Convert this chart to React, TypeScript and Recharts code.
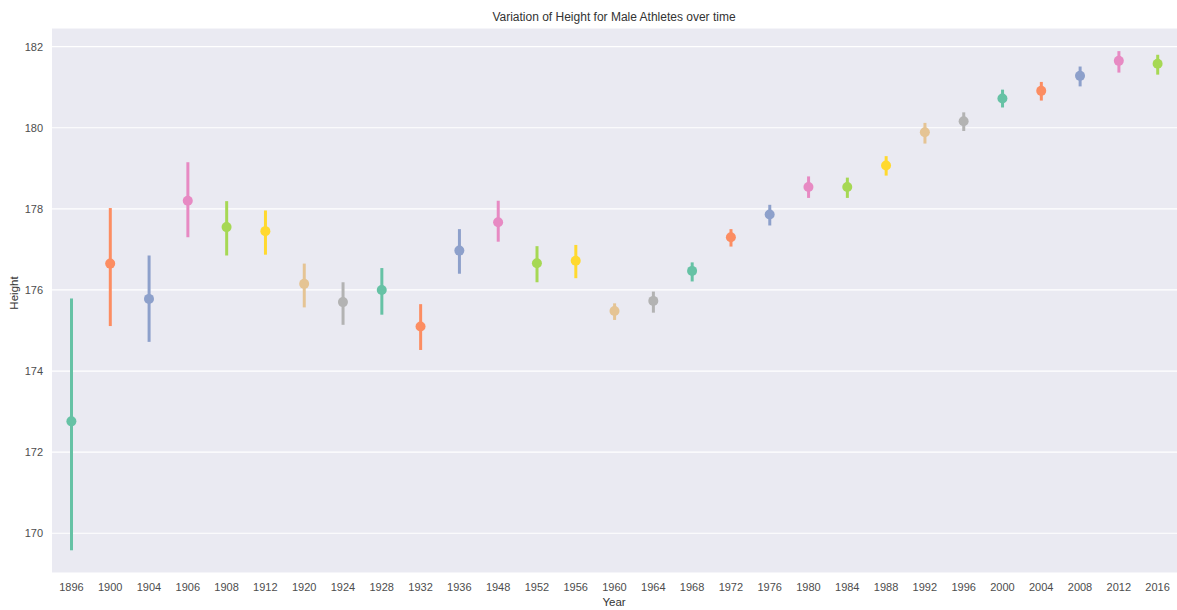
import { Bar, CartesianGrid, Cell, ComposedChart, Line, XAxis, YAxis } from "recharts";

const years = [
  "1896", "1900", "1904", "1906", "1908", "1912", "1920", "1924", "1928", "1932",
  "1936", "1948", "1952", "1956", "1960", "1964", "1968", "1972", "1976", "1980",
  "1984", "1988", "1992", "1996", "2000", "2004", "2008", "2012", "2016",
];

// mean height per games
const meanHeight = [
  172.76, 176.65, 175.78, 178.2, 177.55, 177.45, 176.15, 175.7, 176.0, 175.1,
  176.97, 177.67, 176.66, 176.72, 175.48, 175.73, 176.47, 177.3, 177.86, 178.54,
  178.54, 179.07, 179.89, 180.16, 180.72, 180.91, 181.28, 181.65, 181.58,
];

// confidence interval bounds
const ciLow = [
  169.58, 175.11, 174.72, 177.3, 176.85, 176.87, 175.57, 175.14, 175.39, 174.52,
  176.4, 177.19, 176.19, 176.29, 175.26, 175.44, 176.21, 177.07, 177.59, 178.27,
  178.27, 178.82, 179.61, 179.92, 180.5, 180.67, 181.02, 181.36, 181.31,
];
const ciHigh = [
  175.79, 178.02, 176.85, 179.15, 178.19, 177.96, 176.65, 176.19, 176.54, 175.65,
  177.5, 178.2, 177.08, 177.11, 175.67, 175.96, 176.68, 177.5, 178.1, 178.8,
  178.77, 179.3, 180.12, 180.38, 180.94, 181.13, 181.51, 181.89, 181.8,
];

const yTicks = [170, 172, 174, 176, 178, 180, 182];

// seaborn Set2
const SET2 = ["#66c2a5", "#fc8d62", "#8da0cb", "#e78ac3", "#a6d854", "#ffd92f", "#e5c494", "#b3b3b3"];

const data = years.map((y, i) => ({
  year: y,
  height: meanHeight[i],
  ci: [ciLow[i], ciHigh[i]],
}));

const FONT = '"Liberation Sans", Arial, Helvetica, sans-serif';

export default function App() {
  return (
    <div style={{ position: "absolute", left: 0, top: 0, width: 1177, height: 610, background: "#fff", fontFamily: FONT }}>
      <div
        style={{
          position: "absolute",
          left: 614,
          top: 17,
          transform: "translate(-50%, -50%)",
          whiteSpace: "nowrap",
          fontSize: 12,
          color: "#333",
        }}
      >
        Variation of Height for Male Athletes over time
      </div>
      <div
        style={{
          position: "absolute",
          left: 14,
          top: 293,
          transform: "translate(-50%, -50%) rotate(-90deg)",
          fontSize: 11.5,
          color: "#333",
        }}
      >
        Height
      </div>
      <div
        style={{ position: "absolute", left: 614, top: 602, transform: "translate(-50%, -50%)", fontSize: 11.5, color: "#333" }}
      >
        Year
      </div>
      <ComposedChart width={1177} height={610} data={data} margin={{ top: 28, right: 0, bottom: 7, left: 0 }}>
        <CartesianGrid fill="#eaeaf2" stroke="#ffffff" strokeWidth={1.2} vertical={false} />
        <XAxis
          dataKey="year"
          type="category"
          height={30}
          axisLine={false}
          tickLine={false}
          tickSize={0}
          tickMargin={10}
          interval={0}
          tick={{ fontSize: 11, fill: "#4d4d4d", fontFamily: FONT }}
        />
        <YAxis
          width={52}
          domain={[169.02, 182.46]}
          ticks={yTicks}
          axisLine={false}
          tickLine={false}
          tickSize={0}
          tickMargin={9}
          tick={{ fontSize: 11, fill: "#4d4d4d", fontFamily: FONT }}
        />
        <Bar dataKey="ci" barSize={3} isAnimationActive={false}>
          {data.map((_d, i) => (
            <Cell key={i} fill={SET2[i % SET2.length]} />
          ))}
        </Bar>
        <Line
          dataKey="height"
          stroke="none"
          isAnimationActive={false}
          activeDot={false}
          dot={(p: any) => (
            <circle key={p.index} cx={p.cx} cy={p.cy} r={5} fill={SET2[p.index % SET2.length]} />
          )}
        />
      </ComposedChart>
    </div>
  );
}
